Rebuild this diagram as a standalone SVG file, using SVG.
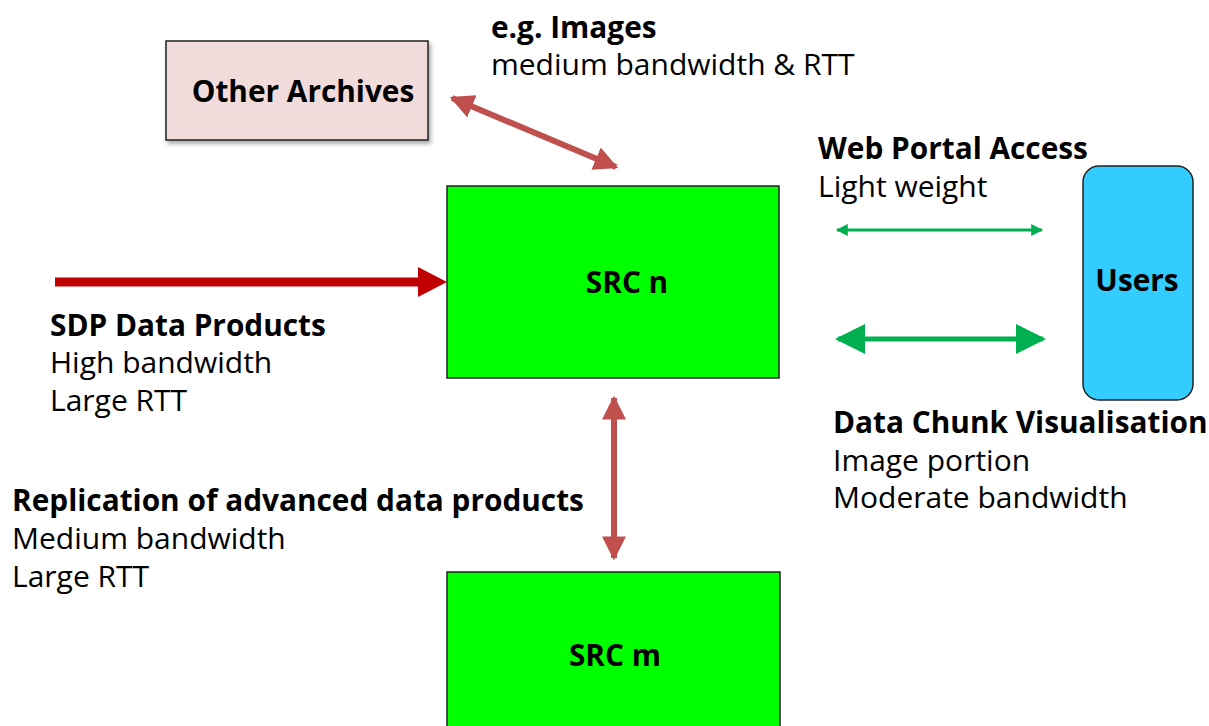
<svg xmlns="http://www.w3.org/2000/svg" width="1209" height="726" viewBox="0 0 1209 726">
<defs>
<style>
text{font-family:"Open Sans","Noto Sans","Liberation Sans",sans-serif;font-size:30px;fill:#000}
.b{font-weight:bold;font-size:29.8px}
.box{stroke:#222;stroke-width:1.5}
</style>
<filter id="sh" x="-10%" y="-10%" width="130%" height="130%"><feDropShadow dx="2" dy="3" stdDeviation="2" flood-color="#000" flood-opacity="0.35"/></filter>
<marker id="rh" viewBox="0 0 10 10" refX="9" refY="5" markerWidth="4" markerHeight="4" orient="auto-start-reverse" markerUnits="strokeWidth"><path d="M0,0 L10,5 L0,10 z" fill="#c0504d"/></marker>
<marker id="gh" viewBox="0 0 10 10" refX="9" refY="5" markerWidth="4" markerHeight="4" orient="auto-start-reverse" markerUnits="strokeWidth"><path d="M0,0 L10,5 L0,10 z" fill="#00b050"/></marker>
<marker id="gh2" viewBox="0 0 10 10" refX="9" refY="5" markerWidth="7" markerHeight="6" orient="auto-start-reverse" markerUnits="strokeWidth"><path d="M0,0 L10,5 L0,10 z" fill="#00b050"/></marker>
</defs>
<rect width="1209" height="726" fill="#fff"/>
<g id="other-archives">
<rect class="box" x="166" y="41" width="262" height="99" fill="#f2dcdb" filter="url(#sh)"/>
<text class="b" x="303" y="102" text-anchor="middle" font-size="27">Other Archives</text>
</g>
<g id="src-n">
<rect class="box" x="447" y="186" width="332" height="192" fill="#00ff00"/>
<text class="b" x="627" y="293" text-anchor="middle" font-size="27">SRC n</text>
</g>
<g id="src-m">
<rect class="box" x="447" y="572" width="333" height="160" fill="#00ff00"/>
<text class="b" x="615" y="666" text-anchor="middle" font-size="27">SRC m</text>
</g>
<g id="users">
<rect class="box" x="1083" y="166" width="110" height="234" rx="16" fill="#33ccff"/>
<text class="b" x="1137" y="291" text-anchor="middle" font-size="27">Users</text>
</g>
<g id="connectors">
<line x1="55" y1="282" x2="420" y2="282" stroke="#c00000" stroke-width="9"/>
<path d="M418,267 L447,282 L418,297 z" fill="#c00000"/>
<line x1="452" y1="98" x2="616" y2="167" stroke="#c0504d" stroke-width="6" marker-start="url(#rh)" marker-end="url(#rh)"/>
<line x1="614" y1="398" x2="614" y2="558" stroke="#c0504d" stroke-width="6" marker-start="url(#rh)" marker-end="url(#rh)"/>
<line x1="837" y1="230" x2="1042" y2="230" stroke="#00b050" stroke-width="3" marker-start="url(#gh)" marker-end="url(#gh)"/>
<line x1="838" y1="339" x2="1043" y2="339" stroke="#00b050" stroke-width="5" marker-start="url(#gh2)" marker-end="url(#gh2)"/>
</g>
<g id="labels">
<text class="b" x="491" y="38">e.g. Images</text>
<text x="491" y="75">medium bandwidth &amp; RTT</text>
<text class="b" x="818" y="159">Web Portal Access</text>
<text x="818" y="197">Light weight</text>
<text class="b" x="50" y="336">SDP Data Products</text>
<text x="50" y="373">High bandwidth</text>
<text x="50" y="411">Large RTT</text>
<text class="b" x="833" y="433">Data Chunk Visualisation</text>
<text x="833" y="471">Image portion</text>
<text x="833" y="508">Moderate bandwidth</text>
<text class="b" x="12" y="511">Replication of advanced data products</text>
<text x="12" y="549">Medium bandwidth</text>
<text x="12" y="587">Large RTT</text>
</g>
</svg>
